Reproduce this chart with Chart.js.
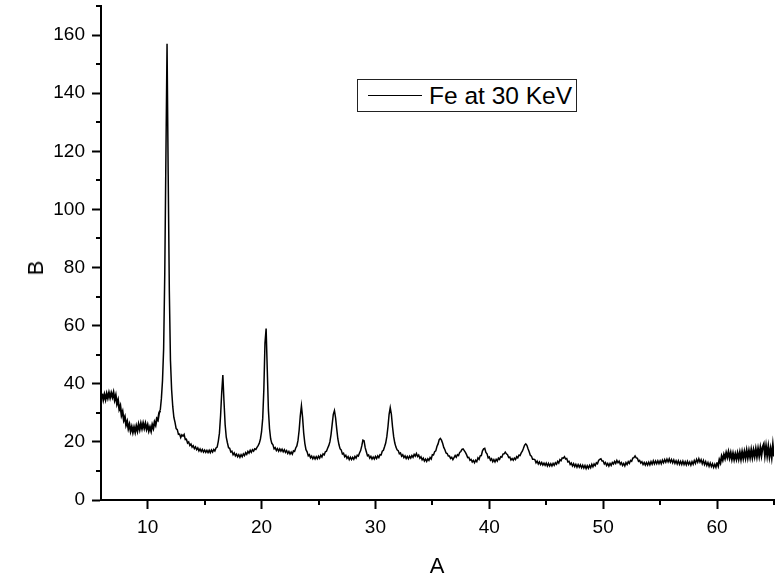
<!DOCTYPE html>
<html>
<head>
<meta charset="utf-8">
<script src="https://cdn.jsdelivr.net/npm/chart.js@4.4.0/dist/chart.umd.min.js"></script>
<style>
  html, body { margin: 0; padding: 0; background: #fff; }
  #wrap { position: relative; width: 783px; height: 577px; font-family: "Liberation Sans", Arial, sans-serif; color: #000; }
  #chart { position: absolute; left: 0; top: 0; }
  .axis-title { position: absolute; font-size: 22px; line-height: 1; white-space: nowrap; transform: translate(-50%, -50%); }
  #title-y { transform: translate(-50%, -50%) rotate(-90deg); }
  #legend { position: absolute; left: 357px; top: 79px; width: 220px; height: 33px; box-sizing: border-box; border: 1px solid #222; background: #fff; }
  #legend .swatch { position: absolute; left: 10px; top: 15px; width: 54px; height: 1px; background: #000; }
  #legend .label { position: absolute; left: 71px; top: 4px; font-size: 24.5px; line-height: 1; white-space: nowrap; }
</style>
</head>
<body>
<div id="wrap">
  <canvas id="chart" width="783" height="577"></canvas>
  <div class="axis-title" id="title-x" style="left:437px; top:566px;">A</div>
  <div class="axis-title" id="title-y" style="left:36px; top:268px;">B</div>
  <div id="legend"><span class="swatch"></span><span class="label" id="legend-label"></span></div>
</div>
<script>
// ── Data ──────────────────────────────────────────────────────────────────
// Scan position (A), one reading every 0.1
const angles = [
  6.0, 6.1, 6.2, 6.3, 6.4, 6.5, 6.6, 6.7, 6.8, 6.9,
  7.0, 7.1, 7.2, 7.3, 7.4, 7.5, 7.6, 7.7, 7.8, 7.9,
  8.0, 8.1, 8.2, 8.3, 8.4, 8.5, 8.6, 8.7, 8.8, 8.9,
  9.0, 9.1, 9.2, 9.3, 9.4, 9.5, 9.6, 9.7, 9.8, 9.9,
  10.0, 10.1, 10.2, 10.3, 10.4, 10.5, 10.6, 10.7, 10.8, 10.9,
  11.0, 11.1, 11.2, 11.3, 11.4, 11.5, 11.6, 11.7, 11.8, 11.9,
  12.0, 12.1, 12.2, 12.3, 12.4, 12.5, 12.6, 12.7, 12.8, 12.9,
  13.0, 13.1, 13.2, 13.3, 13.4, 13.5, 13.6, 13.7, 13.8, 13.9,
  14.0, 14.1, 14.2, 14.3, 14.4, 14.5, 14.6, 14.7, 14.8, 14.9,
  15.0, 15.1, 15.2, 15.3, 15.4, 15.5, 15.6, 15.7, 15.8, 15.9,
  16.0, 16.1, 16.2, 16.3, 16.4, 16.5, 16.6, 16.7, 16.8, 16.9,
  17.0, 17.1, 17.2, 17.3, 17.4, 17.5, 17.6, 17.7, 17.8, 17.9,
  18.0, 18.1, 18.2, 18.3, 18.4, 18.5, 18.6, 18.7, 18.8, 18.9,
  19.0, 19.1, 19.2, 19.3, 19.4, 19.5, 19.6, 19.7, 19.8, 19.9,
  20.0, 20.1, 20.2, 20.3, 20.4, 20.5, 20.6, 20.7, 20.8, 20.9,
  21.0, 21.1, 21.2, 21.3, 21.4, 21.5, 21.6, 21.7, 21.8, 21.9,
  22.0, 22.1, 22.2, 22.3, 22.4, 22.5, 22.6, 22.7, 22.8, 22.9,
  23.0, 23.1, 23.2, 23.3, 23.4, 23.5, 23.6, 23.7, 23.8, 23.9,
  24.0, 24.1, 24.2, 24.3, 24.4, 24.5, 24.6, 24.7, 24.8, 24.9,
  25.0, 25.1, 25.2, 25.3, 25.4, 25.5, 25.6, 25.7, 25.8, 25.9,
  26.0, 26.1, 26.2, 26.3, 26.4, 26.5, 26.6, 26.7, 26.8, 26.9,
  27.0, 27.1, 27.2, 27.3, 27.4, 27.5, 27.6, 27.7, 27.8, 27.9,
  28.0, 28.1, 28.2, 28.3, 28.4, 28.5, 28.6, 28.7, 28.8, 28.9,
  29.0, 29.1, 29.2, 29.3, 29.4, 29.5, 29.6, 29.7, 29.8, 29.9,
  30.0, 30.1, 30.2, 30.3, 30.4, 30.5, 30.6, 30.7, 30.8, 30.9,
  31.0, 31.1, 31.2, 31.3, 31.4, 31.5, 31.6, 31.7, 31.8, 31.9,
  32.0, 32.1, 32.2, 32.3, 32.4, 32.5, 32.6, 32.7, 32.8, 32.9,
  33.0, 33.1, 33.2, 33.3, 33.4, 33.5, 33.6, 33.7, 33.8, 33.9,
  34.0, 34.1, 34.2, 34.3, 34.4, 34.5, 34.6, 34.7, 34.8, 34.9,
  35.0, 35.1, 35.2, 35.3, 35.4, 35.5, 35.6, 35.7, 35.8, 35.9,
  36.0, 36.1, 36.2, 36.3, 36.4, 36.5, 36.6, 36.7, 36.8, 36.9,
  37.0, 37.1, 37.2, 37.3, 37.4, 37.5, 37.6, 37.7, 37.8, 37.9,
  38.0, 38.1, 38.2, 38.3, 38.4, 38.5, 38.6, 38.7, 38.8, 38.9,
  39.0, 39.1, 39.2, 39.3, 39.4, 39.5, 39.6, 39.7, 39.8, 39.9,
  40.0, 40.1, 40.2, 40.3, 40.4, 40.5, 40.6, 40.7, 40.8, 40.9,
  41.0, 41.1, 41.2, 41.3, 41.4, 41.5, 41.6, 41.7, 41.8, 41.9,
  42.0, 42.1, 42.2, 42.3, 42.4, 42.5, 42.6, 42.7, 42.8, 42.9,
  43.0, 43.1, 43.2, 43.3, 43.4, 43.5, 43.6, 43.7, 43.8, 43.9,
  44.0, 44.1, 44.2, 44.3, 44.4, 44.5, 44.6, 44.7, 44.8, 44.9,
  45.0, 45.1, 45.2, 45.3, 45.4, 45.5, 45.6, 45.7, 45.8, 45.9,
  46.0, 46.1, 46.2, 46.3, 46.4, 46.5, 46.6, 46.7, 46.8, 46.9,
  47.0, 47.1, 47.2, 47.3, 47.4, 47.5, 47.6, 47.7, 47.8, 47.9,
  48.0, 48.1, 48.2, 48.3, 48.4, 48.5, 48.6, 48.7, 48.8, 48.9,
  49.0, 49.1, 49.2, 49.3, 49.4, 49.5, 49.6, 49.7, 49.8, 49.9,
  50.0, 50.1, 50.2, 50.3, 50.4, 50.5, 50.6, 50.7, 50.8, 50.9,
  51.0, 51.1, 51.2, 51.3, 51.4, 51.5, 51.6, 51.7, 51.8, 51.9,
  52.0, 52.1, 52.2, 52.3, 52.4, 52.5, 52.6, 52.7, 52.8, 52.9,
  53.0, 53.1, 53.2, 53.3, 53.4, 53.5, 53.6, 53.7, 53.8, 53.9,
  54.0, 54.1, 54.2, 54.3, 54.4, 54.5, 54.6, 54.7, 54.8, 54.9,
  55.0, 55.1, 55.2, 55.3, 55.4, 55.5, 55.6, 55.7, 55.8, 55.9,
  56.0, 56.1, 56.2, 56.3, 56.4, 56.5, 56.6, 56.7, 56.8, 56.9,
  57.0, 57.1, 57.2, 57.3, 57.4, 57.5, 57.6, 57.7, 57.8, 57.9,
  58.0, 58.1, 58.2, 58.3, 58.4, 58.5, 58.6, 58.7, 58.8, 58.9,
  59.0, 59.1, 59.2, 59.3, 59.4, 59.5, 59.6, 59.7, 59.8, 59.9,
  60.0, 60.1, 60.2, 60.3, 60.4, 60.5, 60.6, 60.7, 60.8, 60.9,
  61.0, 61.1, 61.2, 61.3, 61.4, 61.5, 61.6, 61.7, 61.8, 61.9,
  62.0, 62.1, 62.2, 62.3, 62.4, 62.5, 62.6, 62.7, 62.8, 62.9,
  63.0, 63.1, 63.2, 63.3, 63.4, 63.5, 63.6, 63.7, 63.8, 63.9,
  64.0, 64.1, 64.2, 64.3, 64.4, 64.5, 64.6, 64.7, 64.8, 64.9,
  65.0
];

// Intensity (B)
const counts = [
  36.6, 34.5, 36.3, 34.6, 36.6, 35.1, 36.9, 35.2, 36.8, 35.4,
  37.0, 34.5, 36.0, 33.1, 34.4, 31.3, 32.4, 29.2, 30.4, 27.5,
  28.6, 25.8, 27.0, 24.6, 26.0, 23.7, 25.2, 23.3, 25.0, 23.4,
  25.4, 23.8, 26.0, 24.3, 26.3, 24.6, 26.4, 24.7, 26.3, 24.4,
  25.8, 23.8, 25.1, 23.7, 25.9, 24.7, 26.8, 25.8, 28.0, 27.5,
  29.9, 30.8, 34.8, 41.0, 52.0, 78.0, 118.0, 157.0, 112.0, 72.0,
  48.0, 38.0, 32.2, 28.4, 26.7, 24.6, 24.2, 22.6, 22.7, 21.5,
  22.4, 22.0, 22.6, 20.8, 20.9, 19.6, 20.0, 18.8, 19.3, 18.2,
  18.7, 17.7, 18.3, 17.3, 17.9, 16.9, 17.6, 16.7, 17.4, 16.5,
  17.2, 16.4, 17.1, 16.3, 17.1, 16.3, 17.2, 16.5, 17.4, 16.9,
  17.9, 18.2, 20.2, 23.0, 29.0, 37.0, 43.0, 34.0, 26.0, 21.6,
  19.7, 18.0, 17.8, 16.5, 16.8, 15.6, 16.2, 15.2, 15.8, 14.9,
  15.6, 14.7, 15.6, 14.9, 15.9, 15.3, 16.3, 15.7, 16.7, 16.1,
  17.1, 16.4, 17.3, 16.8, 17.6, 17.4, 18.1, 18.7, 19.5, 21.0,
  23.5, 28.0, 38.0, 54.0, 59.0, 45.0, 31.0, 24.5, 21.0, 19.5,
  19.0, 17.6, 18.0, 17.0, 17.7, 16.8, 17.6, 16.8, 17.5, 16.6,
  17.3, 16.4, 17.0, 16.0, 16.7, 15.8, 16.5, 15.8, 16.9, 16.7,
  17.9, 18.6, 20.5, 24.0, 29.0, 32.4, 28.5, 23.0, 19.5, 17.3,
  16.6, 15.2, 15.6, 14.5, 15.1, 14.2, 14.9, 14.1, 14.9, 14.2,
  15.1, 14.4, 15.4, 14.8, 15.9, 15.5, 16.6, 16.8, 17.8, 18.7,
  20.0, 22.5, 26.0, 29.5, 30.8, 28.3, 24.5, 21.0, 19.0, 17.6,
  17.2, 15.8, 16.1, 14.9, 15.4, 14.3, 14.9, 13.9, 14.7, 13.9,
  14.7, 14.0, 15.0, 14.4, 15.4, 15.1, 16.2, 17.0, 18.6, 20.6,
  20.4, 18.0, 16.6, 15.2, 15.5, 14.4, 15.0, 14.1, 14.8, 14.1,
  15.0, 14.3, 15.2, 14.6, 15.6, 15.5, 16.8, 17.1, 18.3, 19.6,
  21.8, 25.2, 29.5, 31.8, 29.5, 25.2, 21.8, 19.6, 18.2, 17.3,
  17.0, 15.9, 16.2, 15.1, 15.6, 14.6, 15.2, 14.3, 15.0, 14.2,
  15.1, 14.4, 15.3, 14.7, 15.7, 15.1, 16.0, 15.0, 15.5, 14.4,
  14.9, 13.8, 14.4, 13.4, 14.1, 13.3, 14.2, 13.6, 14.6, 14.1,
  15.6, 15.5, 16.6, 16.9, 18.4, 19.3, 20.8, 21.2, 20.6, 19.5,
  18.1, 17.3, 16.2, 16.0, 15.1, 15.1, 14.3, 14.7, 13.9, 14.6,
  15.3, 14.7, 15.6, 15.3, 16.4, 16.7, 17.4, 17.6, 17.0, 16.4,
  15.6, 14.6, 14.7, 13.7, 14.0, 13.1, 13.6, 12.8, 13.7, 13.2,
  14.5, 14.0, 15.2, 15.3, 16.9, 17.6, 17.8, 16.4, 15.9, 14.5,
  14.8, 13.7, 14.2, 13.2, 13.9, 13.1, 14.0, 13.4, 14.4, 14.0,
  14.9, 14.7, 15.8, 15.9, 16.5, 15.9, 15.6, 14.6, 14.8, 13.8,
  14.3, 13.7, 14.4, 13.9, 14.9, 14.5, 15.4, 15.3, 16.2, 16.8,
  17.8, 18.9, 19.3, 18.8, 17.6, 16.6, 15.4, 15.1, 14.0, 14.0,
  13.9, 12.8, 13.4, 12.4, 13.1, 12.2, 12.9, 12.0, 12.7, 11.9,
  12.7, 11.7, 12.6, 11.7, 12.5, 11.7, 12.6, 11.9, 12.8, 12.3,
  13.3, 12.7, 13.9, 13.5, 14.5, 14.4, 14.9, 14.1, 14.3, 13.1,
  13.3, 12.2, 12.7, 11.7, 12.5, 11.5, 12.3, 11.3, 12.2, 11.3,
  12.1, 11.1, 12.0, 11.0, 11.9, 10.8, 11.8, 10.9, 11.9, 11.1,
  12.3, 11.4, 12.4, 11.8, 12.8, 12.5, 13.6, 14.0, 14.2, 13.4,
  13.4, 12.4, 12.9, 11.9, 12.6, 11.7, 12.6, 11.9, 12.9, 12.4,
  13.3, 12.6, 13.6, 12.8, 13.4, 12.3, 12.9, 11.9, 12.6, 11.7,
  12.9, 12.2, 13.2, 12.6, 13.6, 13.3, 14.4, 14.6, 15.2, 14.5,
  14.4, 13.3, 13.6, 12.7, 13.2, 12.2, 12.9, 12.0, 12.9, 12.0,
  13.0, 12.1, 13.2, 12.3, 13.5, 12.4, 13.4, 12.5, 13.5, 12.5,
  13.5, 12.5, 13.7, 12.8, 13.9, 13.0, 14.1, 13.1, 14.2, 13.0,
  13.9, 12.8, 13.8, 12.6, 13.5, 12.4, 13.5, 12.3, 13.3, 12.2,
  13.4, 12.2, 13.2, 12.1, 13.3, 12.2, 13.1, 12.0, 13.2, 12.3,
  13.6, 12.6, 14.0, 13.0, 14.2, 13.0, 13.9, 12.5, 13.6, 12.2,
  13.2, 11.9, 12.9, 11.6, 12.7, 11.5, 12.5, 11.2, 12.3, 11.2,
  12.9, 11.8, 13.8, 12.8, 15.0, 13.8, 15.6, 14.3, 16.2, 14.7,
  16.5, 14.5, 16.2, 14.1, 16.0, 14.0, 15.8, 14.1, 16.1, 14.2,
  16.3, 14.1, 16.5, 14.4, 16.6, 14.5, 17.0, 14.6, 16.9, 14.7,
  17.2, 14.7, 17.1, 15.0, 17.5, 15.0, 17.6, 15.2, 17.9, 15.4,
  18.2, 19.2, 15.4, 18.5, 15.3, 18.3, 15.0, 17.6, 14.8, 18.8,
  15.0
];

const xMajorTicks = [10, 20, 30, 40, 50, 60];
const xMinorTicks = [15, 25, 35, 45, 55, 65];
const yMajorTicks = [0, 20, 40, 60, 80, 100, 120, 140, 160];
const yMinorTicks = [10, 30, 50, 70, 90, 110, 130, 150, 170];
const seriesLabel = 'Fe at 30 KeV';

const FONT = '"Liberation Sans", Arial, sans-serif';

document.getElementById('legend-label').textContent = seriesLabel;

// Half-length ticks between the labelled ones
const minorTicks = {
  id: 'minorTicks',
  afterDraw(chart) {
    const { ctx, chartArea, scales: { x, y } } = chart;
    ctx.save();
    ctx.strokeStyle = '#000';
    ctx.lineWidth = 2;
    ctx.beginPath();
    xMinorTicks.forEach(v => {
      const px = Math.round(x.getPixelForValue(v));
      ctx.moveTo(px, chartArea.bottom);
      ctx.lineTo(px, chartArea.bottom + 5);
    });
    yMinorTicks.forEach(v => {
      const py = Math.round(y.getPixelForValue(v));
      ctx.moveTo(chartArea.left, py);
      ctx.lineTo(chartArea.left - 5, py);
    });
    ctx.stroke();
    ctx.restore();
  }
};

// the noisy ends of the scan read heavier than the peaks
function segmentWidth(seg) {
  const x0 = seg.p0.parsed.x;
  return (x0 < 11.1 || x0 >= 60) ? 2 : 1.5;
}

new Chart(document.getElementById('chart'), {
  type: 'line',
  data: {
    labels: angles,
    datasets: [{
      label: seriesLabel,
      data: counts,
      borderColor: '#000',
      borderWidth: 1.5,
      segment: { borderWidth: segmentWidth },
      pointRadius: 0,
      tension: 0,
      fill: false
    }]
  },
  options: {
    responsive: false,
    animation: false,
    devicePixelRatio: 1,
    layout: { padding: { top: 6, right: 9, left: 0, bottom: 0 } },
    plugins: {
      legend: { display: false },
      tooltip: { enabled: false }
    },
    scales: {
      x: {
        type: 'linear',
        min: 5.9,
        max: 65,
        afterFit: s => { s.height = 77; s.paddingLeft = 0; s.paddingRight = 0; },
        afterBuildTicks: s => { s.ticks = xMajorTicks.map(v => ({ value: v })); },
        grid: { drawOnChartArea: false, drawTicks: true, tickLength: 9, tickWidth: 2, tickColor: '#000' },
        border: { display: true, color: '#000', width: 2 },
        ticks: { color: '#000', font: { family: FONT, size: 19 }, padding: 7, maxRotation: 0, autoSkip: false }
      },
      y: {
        type: 'linear',
        min: 0,
        max: 170,
        afterFit: s => { s.width = 101; s.paddingTop = 0; s.paddingBottom = 0; },
        afterBuildTicks: s => { s.ticks = yMajorTicks.map(v => ({ value: v })); },
        grid: { drawOnChartArea: false, drawTicks: true, tickLength: 9, tickWidth: 2, tickColor: '#000' },
        border: { display: true, color: '#000', width: 2 },
        ticks: { color: '#000', font: { family: FONT, size: 19 }, padding: 7, autoSkip: false }
      }
    }
  },
  plugins: [minorTicks]
});
</script>
</body>
</html>
